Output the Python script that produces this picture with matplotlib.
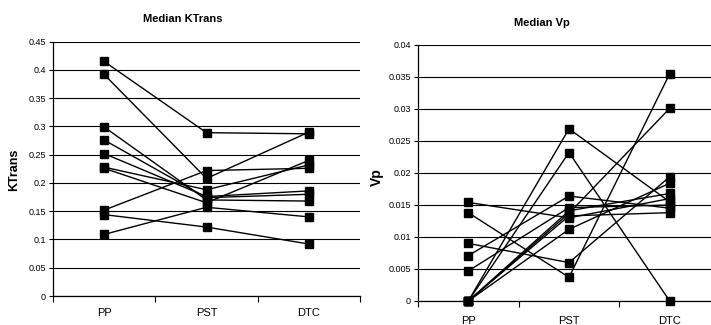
import matplotlib
matplotlib.use('Agg')
import matplotlib.pyplot as plt
import numpy as np

plt.rcParams['font.family'] = ['Liberation Sans', 'DejaVu Sans']
plt.rcParams['font.size'] = 7

# categories
groups = ['PP', 'PST', 'DTC']

# Median KTrans, one row per subject (PP, PST, DTC)
ktrans_pp  = [0.415, 0.392, 0.152, 0.109, 0.144, 0.299, 0.276, 0.252, 0.228, 0.226]
ktrans_pst = [0.289, 0.208, 0.222, 0.157, 0.122, 0.170, 0.174, 0.176, 0.188, 0.165]
ktrans_dtc = [0.287, 0.290, 0.226, 0.140, 0.092, 0.168, 0.180, 0.186, 0.232, 0.240]

# Median Vp
vp_pp  = [0.0154, 0.0138, 0.0090, 0.0071, 0.0047, 0.0, 0.0, 0.0, 0.0, 0.0, 0.0]
vp_pst = [0.0130, 0.0037, 0.0060, 0.0164, 0.0146, 0.0269, 0.0232, 0.0137, 0.0112, 0.0141, 0.0133]
vp_dtc = [0.0160, 0.0355, 0.0194, 0.0145, 0.0150, 0.0155, 0.0, 0.0301, 0.0184, 0.0168, 0.0138]

fig = plt.figure(figsize=(7.11, 3.25), dpi=100)


def draw_panel(ax, pp, pst, dtc, ymax, ystep, fmt):
    x = np.arange(len(groups))
    for a, b, c in zip(pp, pst, dtc):
        ax.plot(x, [a, b, c], color='black', linewidth=1.0, marker='s',
                markersize=6, markerfacecolor='black', markeredgecolor='black',
                clip_on=False, zorder=3)
    ax.set_xlim(-0.5, 2.5)
    ax.set_ylim(0, ymax)
    yt = np.arange(0, ymax + ystep / 2, ystep)
    ax.set_yticks(yt, [fmt(v) for v in yt])
    ax.set_xticks(x, groups, fontsize=8)
    ax.tick_params(axis='x', which='major', length=0, pad=9)
    ax.set_xticks([-0.5, 0.5, 1.5, 2.5], minor=True)
    ax.tick_params(axis='x', which='minor', length=4, direction='out', width=0.8)
    ax.tick_params(axis='y', length=3, width=0.8, pad=2, labelsize=6.5)
    ax.grid(True, axis='y', color='black', linewidth=0.8)
    ax.set_axisbelow(True)
    for s in ['top', 'right']:
        ax.spines[s].set_visible(False)
    for s in ['left', 'bottom']:
        ax.spines[s].set_linewidth(0.9)


def fmt_k(v):
    return '0' if v == 0 else ('%.2f' % v).rstrip('0')


def fmt_v(v):
    return '0' if v == 0 else ('%.3f' % v).rstrip('0')


ax1 = fig.add_axes([53 / 711, 1 - 296 / 325, 307 / 711, (296 - 41.7) / 325])
draw_panel(ax1, ktrans_pp, ktrans_pst, ktrans_dtc, 0.45, 0.05, fmt_k)

ax2 = fig.add_axes([418 / 711, 1 - 301 / 325, 302 / 711, (301 - 45) / 325])
draw_panel(ax2, vp_pp, vp_pst, vp_dtc, 0.04, 0.005, fmt_v)
ax2.tick_params(axis='x', which='major', pad=11)

fig.text(183 / 711, 1 - 19 / 325, 'Median KTrans', ha='center', va='center',
         fontsize=8, fontweight='bold')
fig.text(542 / 711, 1 - 23 / 325, 'Median Vp', ha='center', va='center',
         fontsize=8, fontweight='bold')
fig.text(14 / 711, 1 - 170 / 325, 'KTrans', ha='center', va='center',
         rotation=90, fontsize=9, fontweight='bold')
fig.text(377 / 711, 1 - 177 / 325, 'Vp', ha='center', va='center',
         rotation=90, fontsize=10, fontweight='bold')

fig.savefig('out.png', dpi=100)
